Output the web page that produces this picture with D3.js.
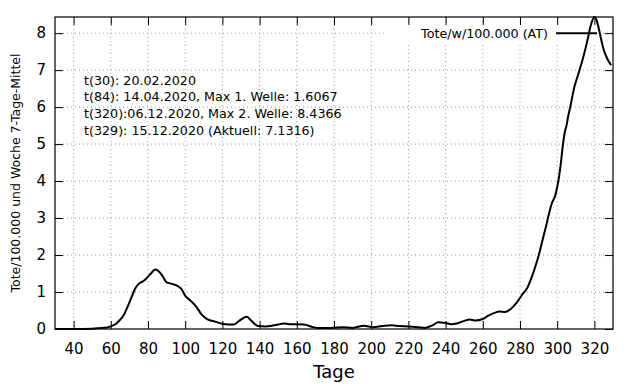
<!DOCTYPE html>
<html>
<head>
<meta charset="utf-8">
<script src="https://cdn.jsdelivr.net/npm/d3@7"></script>
<style>
  body { margin: 0; background: white; }
  text { font-family: "DejaVu Sans", sans-serif; }
</style>
</head>
<body>
<div id="chart"></div>
<script>
// days since start and deaths per 100.000 per week (7-day mean)
const days = [30, 40, 50, 55, 58, 60, 63, 65, 67, 69, 71, 73, 75, 77, 79, 81, 84, 86, 88, 90,
  93, 96, 98, 100, 103, 106, 109, 112, 116, 120, 123, 126, 129, 133, 136, 139, 143, 146, 150, 153,
  156, 160, 164, 168, 171, 178, 185, 190, 196, 201, 206, 211, 215, 220, 225, 229, 233, 236, 240, 243,
  246, 250, 253, 256, 260, 263, 266, 269, 272, 275, 278, 281, 284, 286, 288, 290, 292, 294, 296, 297,
  299, 301, 302, 303, 304, 305, 306, 307, 308, 309, 310, 312, 314, 316, 318, 320, 321, 322, 324, 325,
  327, 329];
const deaths = [0, 0, 0.01, 0.03, 0.04, 0.07, 0.15, 0.25, 0.38, 0.6, 0.84, 1.08, 1.22, 1.28, 1.36, 1.47, 1.6067, 1.55, 1.42, 1.26,
  1.22, 1.16, 1.08, 0.9, 0.76, 0.6, 0.38, 0.26, 0.2, 0.14, 0.12, 0.12, 0.22, 0.33, 0.2, 0.08, 0.07, 0.08, 0.12, 0.15,
  0.13, 0.13, 0.12, 0.06, 0.03, 0.03, 0.05, 0.03, 0.09, 0.05, 0.08, 0.1, 0.08, 0.07, 0.05, 0.03, 0.1, 0.18, 0.16, 0.13,
  0.15, 0.22, 0.26, 0.23, 0.27, 0.36, 0.43, 0.47, 0.46, 0.54, 0.7, 0.92, 1.12, 1.36, 1.65, 1.98, 2.38, 2.78, 3.2, 3.38,
  3.62, 4.12, 4.5, 4.95, 5.3, 5.5, 5.78, 6.0, 6.25, 6.5, 6.68, 7.0, 7.35, 7.75, 8.2, 8.4366, 8.38, 8.2, 7.75, 7.55,
  7.3, 7.1316];

const xTicks = [40, 60, 80, 100, 120, 140, 160, 180, 200, 220, 240, 260, 280, 300, 320];
const yTicks = [0, 1, 2, 3, 4, 5, 6, 7, 8];

const notes = [
  "t(30): 20.02.2020",
  "t(84): 14.04.2020, Max 1. Welle: 1.6067",
  "t(320):06.12.2020, Max 2. Welle: 8.4366",
  "t(329): 15.12.2020 (Aktuell: 7.1316)"
];

const seriesName = "Tote/w/100.000 (AT)";

const margin = { top: 17, right: 27, bottom: 55, left: 55 },
  width = 640 - margin.left - margin.right,
  height = 384 - margin.top - margin.bottom;

const svg = d3
  .select("#chart")
  .append("svg")
  .attr("width", 640)
  .attr("height", 384)
  .append("g")
  .attr("transform", `translate(${margin.left},${margin.top})`);

const xScale = d3.scaleLinear().domain([30, 330]).range([0, width]);
const yScale = d3.scaleLinear().domain([0, 8.4366]).range([height, 0]);

// dotted grid
svg
  .append("g")
  .selectAll("line")
  .data(xTicks)
  .join("line")
  .attr("x1", (d) => xScale(d))
  .attr("x2", (d) => xScale(d))
  .attr("y1", 0)
  .attr("y2", height)
  .attr("stroke", "#999")
  .attr("stroke-dasharray", "1,3");

svg
  .append("g")
  .selectAll("line")
  .data(yTicks.filter((d) => d > 0))
  .join("line")
  .attr("x1", 0)
  .attr("x2", width)
  .attr("y1", (d) => yScale(d))
  .attr("y2", (d) => yScale(d))
  .attr("stroke", "#999")
  .attr("stroke-dasharray", "1,3");

// key box blanks the grid behind it
svg
  .append("rect")
  .attr("x", 332)
  .attr("y", 5)
  .attr("width", 216)
  .attr("height", 21)
  .attr("fill", "white");

// axes, ticks pointing inward
const tickLen = 8;
svg
  .append("g")
  .attr("transform", `translate(0,${height})`)
  .call(d3.axisBottom(xScale).tickValues(xTicks).tickSize(-tickLen).tickPadding(14))
  .call((g) => g.select(".domain").remove())
  .selectAll("text")
  .style("font-size", "15px")
  .attr("fill", "black");

svg
  .append("g")
  .call(d3.axisTop(xScale).tickValues(xTicks).tickSize(-tickLen).tickFormat(""))
  .call((g) => g.select(".domain").remove());

svg
  .append("g")
  .call(d3.axisLeft(yScale).tickValues(yTicks).tickSize(-tickLen).tickPadding(9))
  .call((g) => g.select(".domain").remove())
  .selectAll("text")
  .style("font-size", "15px")
  .attr("fill", "black");

svg
  .append("g")
  .attr("transform", `translate(${width},0)`)
  .call(d3.axisRight(yScale).tickValues(yTicks).tickSize(-tickLen).tickFormat(""))
  .call((g) => g.select(".domain").remove());

svg.selectAll(".tick line").attr("stroke", "black");

// data line
const line = d3
  .line()
  .x((d, i) => xScale(days[i]))
  .y((d) => yScale(d))
  .curve(d3.curveMonotoneX);

svg
  .append("path")
  .datum(deaths)
  .attr("fill", "none")
  .attr("stroke", "black")
  .attr("stroke-width", 2)
  .attr("stroke-linejoin", "round")
  .attr("d", line);

// frame
svg
  .append("rect")
  .attr("width", width)
  .attr("height", height)
  .attr("fill", "none")
  .attr("stroke", "black")
  .attr("stroke-width", 1.2);

// key
svg
  .append("text")
  .attr("x", 493)
  .attr("y", yScale(8))
  .attr("dy", "0.35em")
  .style("text-anchor", "end")
  .style("font-size", "12.7px")
  .text(seriesName);

svg
  .append("line")
  .attr("x1", 501)
  .attr("x2", 542)
  .attr("y1", yScale(8))
  .attr("y2", yScale(8))
  .attr("stroke", "black")
  .attr("stroke-width", 2);

// annotation lines
svg
  .append("g")
  .selectAll("text")
  .data(notes)
  .join("text")
  .attr("x", 29)
  .attr("y", (d, i) => 67.5 + i * 16.8)
  .style("font-size", "12.7px")
  .text((d) => d);

// axis titles
svg
  .append("text")
  .attr("x", width / 2)
  .attr("y", height + 49)
  .style("text-anchor", "middle")
  .style("font-size", "18px")
  .text("Tage");

svg
  .append("text")
  .attr("transform", "rotate(-90)")
  .attr("x", -height / 2)
  .attr("y", -35)
  .style("text-anchor", "middle")
  .style("font-size", "12.5px")
  .text("Tote/100.000 und Woche 7-Tage-Mittel");
</script>
</body>
</html>
